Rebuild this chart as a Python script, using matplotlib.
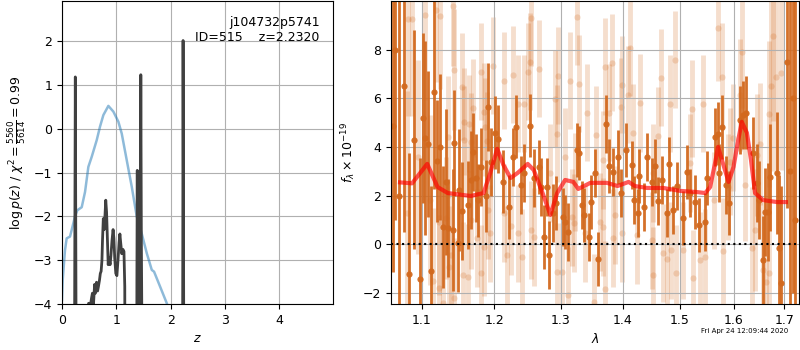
import matplotlib
matplotlib.use('Agg')
import numpy as np
import matplotlib.pyplot as plt
from matplotlib.ticker import NullLocator, FixedLocator, FixedFormatter

plt.rcParams['font.size'] = 9

# --- p(z) panel -------------------------------------------------------
z_pz = [0.0, 0.22, 0.235, 0.245, 0.255, 0.27, 0.46, 0.49, 0.52, 0.545, 0.56, 0.575,
        0.60, 0.615, 0.635, 0.655, 0.67, 0.69, 0.705, 0.72, 0.735, 0.745, 0.76, 0.775,
        0.79, 0.805, 0.82, 0.835, 0.85, 0.865, 0.885, 0.90, 0.92, 0.94, 0.955, 0.97,
        0.99, 1.01, 1.03, 1.05, 1.065, 1.08, 1.10, 1.12, 1.14, 1.155, 1.165, 1.37,
        1.378, 1.385, 1.392, 1.40, 1.408, 1.42, 1.43, 1.44, 1.45, 1.46, 1.47, 1.48,
        2.21, 2.222, 2.228, 2.236, 2.25, 5.0]
logpz = [-10, -10, -3.0, 1.18, -3.0, -10, -10, -3.98, -4.05, -3.85, -3.75, -4.1,
         -3.55, -3.75, -3.5, -3.7, -3.6, -3.45, -3.3, -3.25, -3.0, -2.55, -2.05, -2.3,
         -2.0, -1.63, -1.9, -2.5, -3.1, -2.95, -3.1, -2.9, -2.55, -2.3, -2.5, -2.95,
         -3.3, -3.35, -3.0, -2.6, -2.4, -2.6, -2.85, -2.75, -2.8, -3.6, -10, -10,
         -3.5, -0.95, -3.8, -1.0, -4.2, -3.2, -4.3, -3.0, 1.23, -2.5, -4.5, -10,
         -10, -3.0, 2.01, -2.5, -10, -10]

z_prior = [0.0, 0.013, 0.055, 0.086, 0.147, 0.178, 0.239, 0.282, 0.363, 0.424, 0.485,
           0.547, 0.639, 0.70, 0.761, 0.853, 0.945, 1.037, 1.099, 1.19, 1.283, 1.375,
           1.467, 1.56, 1.652, 1.694, 1.805, 1.928, 2.1]
lp_prior = [-3.9, -3.45, -2.77, -2.5, -2.46, -2.31, -2.0, -1.86, -1.79, -1.44, -0.87,
            -0.64, -0.26, 0.05, 0.31, 0.52, 0.39, 0.16, -0.11, -0.71, -1.32, -2.0,
            -2.39, -2.84, -3.22, -3.26, -3.6, -3.98, -4.6]

# --- spectrum panel ---------------------------------------------------
wave_d = [1.0617, 1.0650, 1.0700, 1.0760, 1.0830, 1.0894, 1.0974, 1.1014, 1.1041, 1.1083,
          1.1124, 1.1166, 1.1194, 1.1235, 1.1277, 1.1318, 1.1346, 1.1415, 1.1429, 1.1484,
          1.1498, 1.1539, 1.1622, 1.1664, 1.1692, 1.1733, 1.1761, 1.1802, 1.1885, 1.1913,
          1.1954, 1.2010, 1.2056, 1.2130, 1.2206, 1.2266, 1.2310, 1.2386, 1.2430, 1.2520,
          1.2580, 1.2656, 1.2686, 1.2730, 1.2790, 1.2820, 1.2880, 1.2926, 1.3032, 1.3064,
          1.3112, 1.3257, 1.3289, 1.3337, 1.3369, 1.3450, 1.3480, 1.3546, 1.3594, 1.3723,
          1.3771, 1.3835, 1.3915, 1.3980, 1.4048, 1.4153, 1.4189, 1.4259, 1.4277, 1.4365,
          1.4418, 1.4506, 1.4559, 1.4612, 1.4683, 1.4771, 1.4806, 1.4877, 1.4947, 1.5055,
          1.5129, 1.5184, 1.5276, 1.5350, 1.5460, 1.5497, 1.5644, 1.5700, 1.5718, 1.5773,
          1.5847, 1.5902, 1.6114, 1.6174, 1.6234, 1.6374, 1.6454, 1.6494, 1.6574, 1.6614,
          1.6674, 1.6714, 1.6854, 1.6894, 1.6934, 1.7055, 1.7110, 1.7170, 1.7230]
flux_d = [4.87, 8.0, 2.0, 6.5, -1.24, 4.29, -1.44, 5.20, 4.37, 4.12,
          -1.11, 6.27, 3.42, 4.00, 0.70, 2.56, 0.66, 0.58, 4.16, 0.04,
          2.23, 1.36, 1.61, 2.64, 3.80, 2.72, 1.81, 3.18, 1.98, 5.65,
          3.38, 4.58, 4.33, 2.56, 1.53, 3.59, 4.83, 2.43, 2.93, 4.87,
          2.72, 3.18, 2.35, 0.29, 2.35, -0.45, 1.28, 1.69, 1.11, 0.91,
          0.49, 3.88, 3.75, 1.61, 1.20, 0.29, 1.73, 2.93, -0.62, 4.95,
          3.22, 2.97, 3.59, 2.10, 3.88, 3.26, 1.81, 1.28, 2.80, 1.53,
          3.59, 2.56, 3.22, 1.77, 2.64, 1.28, 3.30, 1.40, 2.39, 1.07,
          2.97, 2.10, 1.73, 0.78, 0.91, 2.72, 4.41, 4.54, 2.93, 4.82,
          2.43, 1.69, 5.11, 5.32, 5.40, 3.75, 2.52, 1.81, -0.66, 1.32,
          1.32, 2.76, 2.93, -0.16, -1.61, 7.50, 3.0, 6.0, 1.0]
err_d = [6.0, 7.0, 8.0, 6.0, 5.0, 4.5, 5.0, 3.5, 4.0, 3.0,
         3.5, 4.0, 2.5, 3.0, 2.5, 3.0, 2.0, 2.5, 2.2, 2.0,
         2.5, 2.0, 1.8, 2.0, 1.6, 1.8, 1.5, 1.6, 1.5, 1.8,
         1.4, 1.5, 1.4, 1.3, 1.3, 1.2, 1.3, 1.2, 1.2, 1.3,
         1.2, 1.1, 1.2, 1.3, 1.2, 1.4, 1.2, 1.1, 1.2, 1.1,
         1.2, 1.1, 1.1, 1.0, 1.1, 1.0, 1.1, 1.0, 1.1, 1.2,
         1.1, 1.0, 1.1, 1.0, 1.1, 1.0, 1.0, 1.0, 1.1, 1.0,
         1.0, 1.0, 1.1, 1.0, 1.0, 1.0, 1.1, 1.0, 1.0, 1.1,
         1.1, 1.0, 1.1, 1.1, 1.2, 1.1, 1.2, 1.3, 1.2, 1.3,
         1.2, 1.3, 1.4, 1.4, 1.5, 1.5, 1.6, 1.6, 1.8, 1.8,
         2.0, 2.2, 2.5, 3.0, 4.0, 6.0, 9.0, 8.0, 10.0]

wave_l = [1.0802, 1.0815, 1.0869, 1.0947, 1.1041, 1.1111, 1.1152, 1.1180, 1.1221, 1.1225,
          1.1235, 1.1277, 1.1318, 1.1346, 1.1360, 1.1387, 1.1415, 1.1429, 1.1433, 1.1539,
          1.1553, 1.1567, 1.1575, 1.1622, 1.1636, 1.1664, 1.1670, 1.1692, 1.1747, 1.1802,
          1.1805, 1.1844, 1.1857, 1.1871, 1.1899, 1.1913, 1.1940, 1.1982, 1.2135, 1.2146,
          1.2190, 1.2238, 1.2266, 1.2340, 1.2345, 1.2405, 1.2431, 1.2491, 1.2521, 1.2536,
          1.2541, 1.2586, 1.2656, 1.2836, 1.2906, 1.2936, 1.2942, 1.2950, 1.3016, 1.3068,
          1.3112, 1.3144, 1.3177, 1.3200, 1.3225, 1.3257, 1.3289, 1.3385, 1.3417, 1.3530,
          1.3552, 1.3626, 1.3665, 1.3675, 1.3707, 1.3712, 1.3775, 1.3819, 1.3835, 1.3867,
          1.3978, 1.3985, 1.3996, 1.4083, 1.4118, 1.4171, 1.4241, 1.4295, 1.4507, 1.4512,
          1.4525, 1.4614, 1.4665, 1.4701, 1.4768, 1.4824, 1.4830, 1.4912, 1.4930, 1.5057,
          1.5188, 1.5220, 1.5230, 1.5369, 1.5423, 1.5460, 1.5626, 1.5702, 1.5775, 1.5790,
          1.5884, 1.5920, 1.5976, 1.6115, 1.6155, 1.6214, 1.6354, 1.6414, 1.6454, 1.6514,
          1.6574, 1.6634, 1.6695, 1.6700, 1.6735, 1.6775, 1.6835, 1.6935]
flux_l = [1.28, 9.28, 9.28, 3.59, 9.44, 1.81, -1.53, 9.65, 0.91, -1.81,
          9.40, -2.43, 1.07, 4.41, -0.95, -0.45, 9.81, 7.18, -2.23, 6.47,
          -1.28, 5.03, 4.29, -1.36, 4.95, 4.21, 0.99, 5.60, 0.25, 7.09,
          -1.20, -0.12, 5.44, 4.82, 4.25, 1.40, 0.45, 7.34, 1.28, 6.72,
          -0.45, 0.74, 6.97, 5.77, 0.45, -0.54, 5.77, 7.09, 7.51, 9.32,
          0.58, 0.29, 7.22, 2.93, 5.98, 4.54, -1.15, 6.93, -1.15, 3.59,
          -2.10, 6.72, 1.11, 0.87, 2.56, 9.36, 6.60, 0.45, 5.40, -2.39,
          4.49, 0.91, 3.46, 0.70, 7.30, -1.86, 5.40, 7.46, 0.25, 1.20,
          5.65, 6.56, 0.45, 6.14, 8.08, 4.58, 0.37, 5.81, 0.16, 2.93,
          -1.28, 4.45, 6.85, -0.37, -0.62, 5.77, -0.25, 7.59, -1.20, -0.25,
          3.34, 5.57, -1.40, -0.66, 5.77, -0.54, 1.81, 8.91, 6.89, -0.29,
          2.35, 3.38, 4.37, 6.14, 7.92, 2.43, -0.16, 0.58, 3.67, 4.12,
          -1.07, -1.57, 5.36, -1.20, 6.52, 8.58, 6.89, 7.05]
err_l = [5.0, 4.0, 4.0, 4.0, 3.5, 3.5, 3.0, 3.0, 3.0, 3.0,
         3.0, 3.0, 2.5, 2.5, 2.5, 2.5, 2.5, 2.5, 2.5, 2.2,
         2.2, 2.2, 2.2, 2.2, 2.0, 2.0, 2.0, 2.0, 2.0, 2.0,
         2.0, 2.0, 2.0, 2.0, 2.0, 2.0, 2.0, 2.0, 2.0, 2.0,
         2.0, 2.0, 2.0, 2.0, 2.0, 2.0, 2.0, 2.0, 2.0, 2.0,
         2.0, 2.0, 2.0, 2.0, 2.0, 2.0, 2.0, 2.0, 2.0, 2.0,
         2.0, 2.0, 2.0, 2.0, 2.0, 2.0, 2.0, 2.0, 2.0, 2.0,
         2.0, 2.0, 2.0, 2.0, 2.0, 2.0, 2.0, 2.0, 2.0, 2.0,
         2.0, 2.0, 2.0, 2.0, 2.0, 2.0, 2.0, 2.0, 2.0, 2.0,
         2.0, 2.0, 2.0, 2.0, 2.0, 2.0, 2.0, 2.0, 2.0, 2.0,
         2.0, 2.0, 2.0, 2.0, 2.0, 2.0, 2.0, 2.2, 2.2, 2.2,
         2.2, 2.2, 2.2, 2.3, 2.3, 2.3, 2.5, 2.5, 2.5, 2.5,
         2.8, 2.8, 3.0, 3.0, 3.5, 3.5, 4.0, 4.0]

wave_m = [1.0713, 1.0869, 1.1069, 1.1207, 1.1346, 1.1664, 1.1844, 1.1940, 1.2040, 1.2130,
          1.2235, 1.2340, 1.2490, 1.2580, 1.2715, 1.2835, 1.2940, 1.3064, 1.3193, 1.3273,
          1.3466, 1.3738, 1.3915, 1.4100, 1.4206, 1.4418, 1.4700, 1.5000, 1.5313, 1.5460,
          1.5552, 1.5644, 1.5700, 1.5790, 1.5900, 1.5995, 1.6074, 1.6154, 1.6254, 1.6334,
          1.6414, 1.6574, 1.6854, 1.7034]
flux_m = [2.54, 2.50, 3.30, 2.35, 2.10, 1.98, 2.10, 2.93, 3.92, 3.26,
          2.72, 2.93, 3.30, 3.05, 2.10, 1.20, 2.10, 2.64, 2.56, 2.27,
          2.52, 2.52, 2.39, 2.56, 2.39, 2.31, 2.31, 2.19, 2.14, 2.10,
          2.35, 3.34, 4.00, 3.34, 2.56, 3.18, 4.16, 5.03, 4.58, 3.46,
          2.10, 1.81, 1.73, 1.73]

fig = plt.figure(figsize=(8, 3.5), dpi=100)

ax = fig.add_axes([0.0775, 0.131, 0.339, 0.866])
ax.plot(z_prior, lp_prior, color='#1f77b4', alpha=0.5, lw=1.8)
ax.plot(z_pz, logpz, color='0.25', lw=2)
ax.set_xlim(0, 4.99)
ax.set_ylim(-4, 2.91)
ax.set_xticks([0, 1, 2, 3, 4])
ax.set_yticks([-4, -3, -2, -1, 0, 1, 2])
ax.grid()
ax.set_xlabel('$z$')
ax.set_ylabel(r'$\log p(z)$ / $\chi^2=\frac{5560}{5614}=0.99$')
ax.text(0.95, 0.95, 'j104732p5741\nID=515    z=2.2320', ha='right', va='top',
        transform=ax.transAxes)

ax2 = fig.add_axes([0.489, 0.131, 0.5095, 0.866])
ax2.errorbar(wave_l, flux_l, yerr=err_l, fmt='o', color='chocolate', alpha=0.22,
             ms=4.5, mew=0, elinewidth=3.5, zorder=1)
ax2.errorbar(wave_d, flux_d, yerr=err_d, fmt='o', color='#d2691e', alpha=0.95,
             ms=4.5, mew=0, elinewidth=2, zorder=2)
ax2.plot(wave_m, flux_m, color='r', alpha=0.65, lw=3, zorder=5)
ax2.axhline(0, color='k', linestyle=':', lw=1.5, zorder=4)
ax2.set_xscale('log')
ax2.xaxis.set_major_locator(FixedLocator([1.1, 1.2, 1.3, 1.4, 1.5, 1.6, 1.7]))
ax2.xaxis.set_major_formatter(FixedFormatter(['1.1', '1.2', '1.3', '1.4', '1.5', '1.6', '1.7']))
ax2.xaxis.set_minor_locator(NullLocator())
ax2.set_xlim(1.06, 1.73)
ax2.set_ylim(-2.47, 10.0)
ax2.set_yticks([-2, 0, 2, 4, 6, 8])
ax2.grid()
ax2.set_xlabel(r'$\lambda$')
ax2.set_ylabel(r'$f_\lambda\times10^{-19}$')

fig.text(0.985, 0.054, 'Fri Apr 24 12:09:44 2020', ha='right', va='center', fontsize=5)

fig.savefig('out.png', dpi=100)
